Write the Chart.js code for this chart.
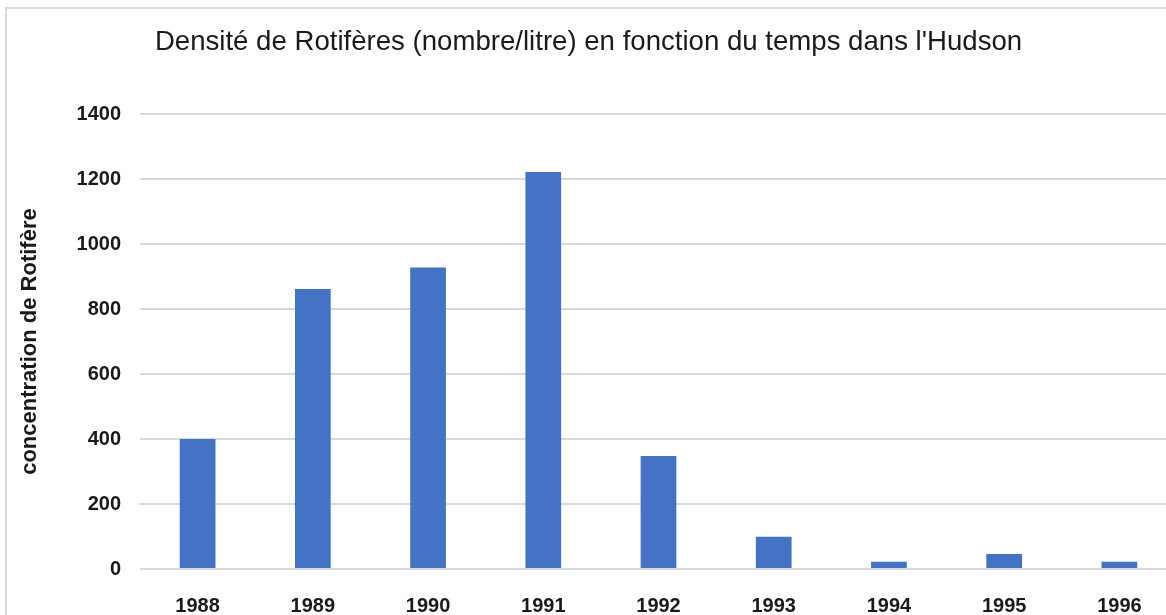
<!DOCTYPE html>
<html>
<head>
<meta charset="utf-8">
<script src="https://cdn.jsdelivr.net/npm/chart.js@4"></script>
<style>
  html, body { margin: 0; padding: 0; background: #fff; overflow: hidden; }
  #wrap { position: relative; width: 1177px; height: 615px; }
  #frame {
    position: absolute; left: 5px; top: 7px; right: -10px; bottom: -10px;
    border-left: 2px solid #d9d9d9; border-top: 2px solid #d9d9d9;
    pointer-events: none;
  }
</style>
</head>
<body>
<div id="wrap">
  <canvas id="chart" width="1177" height="615"></canvas>
  <div id="frame"></div>
</div>
<script>
const years = ['1988', '1989', '1990', '1991', '1992', '1993', '1994', '1995', '1996'];
const density = [400, 862, 928, 1222, 348, 99, 22, 46, 22];
const yMin = 0;
const yMax = 1400;
const yStep = 200;

const TITLE = "Densité de Rotifères (nombre/litre) en fonction du temps dans l'Hudson";
const Y_TITLE = 'concentration de Rotifère';
const FONT = '"Liberation Sans", Arial, sans-serif';

const canvas = document.getElementById('chart');

new Chart(canvas, {
  type: 'bar',
  data: {
    labels: years,
    datasets: [{
      data: density,
      backgroundColor: '#4472c4',
      borderWidth: 0,
      categoryPercentage: 1,
      barPercentage: 0.31,
    }],
  },
  options: {
    responsive: false,
    animation: false,
    layout: { padding: { left: 0, right: 0, top: 0, bottom: 0 } },
    plugins: {
      legend: { display: false },
      tooltip: { enabled: false },
      title: {
        display: true,
        text: TITLE,
        color: '#1a1a1a',
        font: { family: FONT, size: 27.6, weight: 'normal' },
        padding: { top: 26, bottom: 55 },
      },
    },
    scales: {
      x: {
        grid: { display: false },
        border: { display: false },
        ticks: {
          color: '#1a1a1a',
          padding: 17,
          font: { family: FONT, size: 20, weight: 'bold' },
          maxRotation: 0,
        },
        afterFit(scale) { scale.height = 46; },
      },
      y: {
        min: yMin,
        max: yMax,
        border: { display: false },
        grid: { color: '#d9d9d9', lineWidth: 2, drawTicks: false },
        ticks: {
          stepSize: yStep,
          color: '#1a1a1a',
          padding: 19,
          font: { family: FONT, size: 20, weight: 'bold' },
          callback: (v) => String(v),
        },
        title: {
          display: true,
          text: Y_TITLE,
          color: '#1a1a1a',
          font: { family: FONT, size: 22, weight: 'bold' },
          padding: { top: 17, bottom: 0 },
        },
        afterFit(scale) { scale.width = 140; },
      },
    },
  },
});
</script>
</body>
</html>
